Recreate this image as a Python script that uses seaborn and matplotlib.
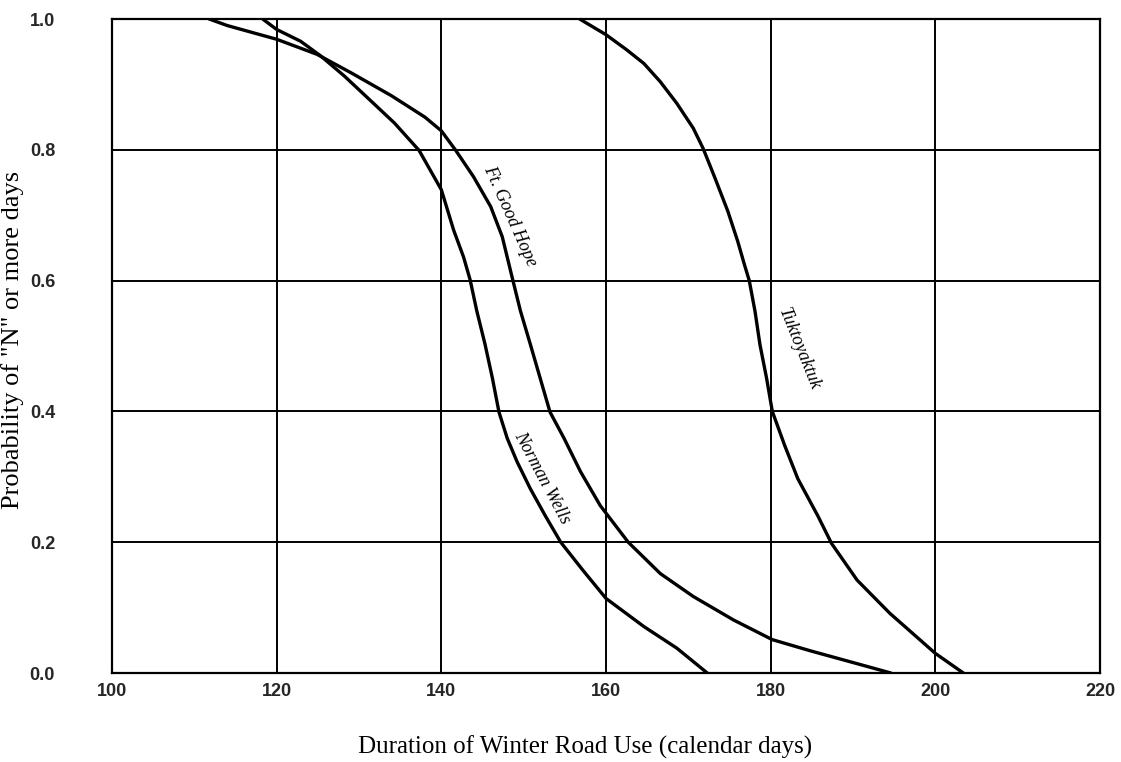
import matplotlib
matplotlib.use("Agg")
import matplotlib.pyplot as plt
import numpy as np
import pandas as pd
import seaborn as sns

# ---- data ----
norman_days = [118.3, 120.0, 122.9, 125.3, 128.2, 131.0, 134.3, 137.3, 140.0, 141.5,
               142.7, 143.5, 144.3, 145.3, 146.2, 147.0, 148.0, 149.2, 150.8, 152.6,
               154.5, 157.2, 160.0, 164.6, 168.6, 172.3]
norman_prob = [1.000, 0.984, 0.966, 0.944, 0.913, 0.880, 0.841, 0.799, 0.739, 0.677,
               0.636, 0.601, 0.554, 0.503, 0.451, 0.399, 0.359, 0.323, 0.282, 0.241,
               0.200, 0.157, 0.114, 0.071, 0.038, 0.000]

goodhope_days = [111.8, 114.0, 120.0, 124.9, 129.0, 133.9, 138.0, 140.0, 141.7, 143.9,
                 146.0, 147.4, 148.6, 149.6, 150.8, 152.0, 153.2, 154.9, 156.9, 159.3,
                 162.7, 166.6, 170.6, 175.5, 180.2, 184.8, 190.0, 194.6]
goodhope_prob = [1.000, 0.990, 0.969, 0.946, 0.918, 0.883, 0.850, 0.829, 0.800, 0.759,
                 0.713, 0.667, 0.605, 0.554, 0.503, 0.451, 0.399, 0.359, 0.308, 0.256,
                 0.200, 0.152, 0.117, 0.081, 0.051, 0.034, 0.016, 0.000]

tuk_days = [156.8, 160.0, 162.5, 164.6, 166.6, 168.6, 170.6, 171.8, 173.2, 174.8,
            176.0, 176.8, 177.4, 178.1, 178.7, 179.5, 180.2, 181.7, 183.3, 185.7,
            187.4, 190.5, 194.5, 200.0, 203.4]
tuk_prob = [1.000, 0.976, 0.953, 0.932, 0.904, 0.871, 0.833, 0.802, 0.758, 0.706,
            0.660, 0.625, 0.600, 0.553, 0.502, 0.451, 0.400, 0.348, 0.297, 0.241,
            0.198, 0.142, 0.091, 0.030, 0.000]

stations = ["Norman Wells", "Ft. Good Hope", "Tuktoyaktuk"]
x_ticks = [100, 120, 140, 160, 180, 200, 220]
y_ticks = [0.0, 0.2, 0.4, 0.6, 0.8, 1.0]
y_tick_labels = ["0.0", "0.2", "0.4", "0.6", "0.8", "1.0"]

# curve labels (text, x, y, rotation)
label_text = ["Ft. Good Hope", "Norman Wells", "Tuktoyaktuk"]
label_x = [148.3, 152.2, 183.5]
label_y = [0.698, 0.298, 0.495]
label_rot = [-66, -62, -68]

df = pd.concat([
    pd.DataFrame({"days": norman_days, "prob": norman_prob, "station": stations[0]}),
    pd.DataFrame({"days": goodhope_days, "prob": goodhope_prob, "station": stations[1]}),
    pd.DataFrame({"days": tuk_days, "prob": tuk_prob, "station": stations[2]}),
], ignore_index=True)

sns.set_theme(style="white")
plt.rcParams["font.family"] = ["Liberation Serif", "DejaVu Serif"]

W, H = 1121, 762
fig = plt.figure(figsize=(W / 100, H / 100), dpi=100)
ax = fig.add_axes([112 / W, 1 - 673 / H, (1100 - 112) / W, (673 - 19) / H])

sns.lineplot(data=df, x="days", y="prob", hue="station", units="station",
             estimator=None, sort=False, palette=["black"] * 3, linewidth=2.4,
             legend=False, ax=ax, zorder=3)
for ln in ax.get_lines():
    ln.set_solid_joinstyle("round")
    ln.set_solid_capstyle("round")

ax.set_xlim(100, 220)
ax.set_ylim(0, 1)
ax.set_xticks(x_ticks)
ax.set_xticklabels([str(t) for t in x_ticks], family="Liberation Sans",
                   fontweight="bold", fontsize=13)
ax.set_yticks(y_ticks)
ax.set_yticklabels(y_tick_labels, family="Liberation Sans", fontweight="bold",
                   fontsize=13)
ax.tick_params(axis="both", length=0)
ax.tick_params(axis="y", pad=41)
ax.tick_params(axis="x", pad=7)

ax.grid(True, color="black", linewidth=1.4)
ax.set_axisbelow(True)
for s in ax.spines.values():
    s.set_color("black")
    s.set_linewidth(1.6)

ax.set_xlabel("Duration of Winter Road Use (calendar days)", fontsize=18,
              color="black")
ax.xaxis.set_label_coords((585 - 112) / 988, -0.095)
ax.set_ylabel('Probability of "N" or more days', fontsize=19, color="black")
ax.yaxis.set_label_coords(-0.089, (673 - 340) / 654)

for t, x, y, r in zip(label_text, label_x, label_y, label_rot):
    ax.text(x, y, t, rotation=r, rotation_mode="anchor", ha="center", va="center",
            fontsize=13, fontstyle="italic", color="black", zorder=4)

fig.savefig("out.png", dpi=100)
